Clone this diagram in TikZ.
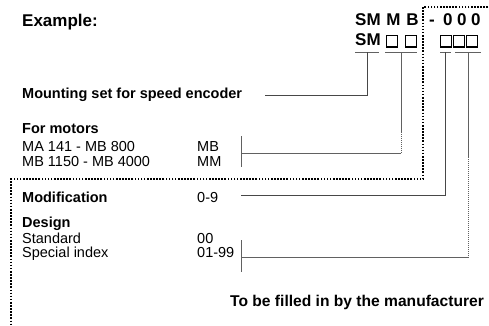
\documentclass[tikz,border=0pt]{standalone}
\usepackage{fontspec}
\setmainfont{Liberation Sans}
\begin{document}
\begin{tikzpicture}[x=1pt,y=-1pt,
  lbl/.style={anchor=base west, inner sep=0pt, font=\fontsize{14.5}{17}\selectfont},
  blbl/.style={anchor=base west, inner sep=0pt, font=\fontsize{14.5}{17}\selectfont\bfseries},
  hdr/.style={anchor=base west, inner sep=0pt, font=\fontsize{17}{20}\selectfont\bfseries},
  cbox/.style={draw, line width=1.3pt, minimum size=11.5pt, inner sep=0pt, anchor=north west},
  heavydot/.style={line width=1.6pt, dash pattern=on 1.6pt off 1.5pt},
  leader/.style={draw=black!72, line width=0.7pt},
  fine/.style={draw=black!62, line width=0.65pt, dash pattern=on 1.5pt off 0.5pt},
]
\useasboundingbox (0,0) rectangle (489,326);

% header
\node[hdr] (ex) at (22,27) {Example:};
\node[hdr] (code) at (355,26) {SM\hspace{1pt} M\hspace{1pt} B};
\node[hdr] (dash) at (429,26) {-};
\node[hdr] (zeros) at (443,26) {0\hspace{4.5pt}0\hspace{4.5pt}0};
\node[hdr] (sm) at (355,46) {SM};
\node[cbox] (b1) at (385.5,35) {};
\node[cbox] (b2) at (404.5,35) {};
\node[cbox] (z1) at (439.5,35) {};
\node[cbox] (z2) at (452.5,35) {};
\node[cbox] (z3) at (465.5,35) {};

% underlines
\coordinate (u1a) at (355,52); \coordinate (u1b) at (379,52); \coordinate (u1) at (367,52);
\coordinate (u2a) at (385,52); \coordinate (u2b) at (417,52); \coordinate (u2) at (401,52);
\coordinate (u3a) at (440,52); \coordinate (u3b) at (451,52); \coordinate (u3) at (445.5,52);
\coordinate (u4a) at (455,52); \coordinate (u4b) at (481,52); \coordinate (u4) at (468,52);
\draw[fine] (u1a) -- (u1b);
\draw[fine] (u2a) -- (u2b);
\draw[fine] (u3a) -- (u3b);
\draw[fine] (u4a) -- (u4b);

% texts
\node[blbl] (mount) at (22,99) {Mounting set for speed encoder};
\node[blbl] (motors) at (22,133) {For motors};
\node[lbl] (ma) at (22,151) {MA 141 - MB 800};
\node[lbl] (mb) at (22,166) {MB 1150 - MB 4000};
\node[lbl] (cmb) at (197,151) {MB};
\node[lbl] (cmm) at (197,166) {MM};
\node[blbl] (mod) at (22,202) {Modification};
\node[lbl] (c09) at (197,202) {0-9};
\node[blbl] (design) at (22,227) {Design};
\node[lbl] (std) at (22,243) {Standard};
\node[lbl] (spec) at (22,257) {Special index};
\node[lbl] (c00) at (197,243) {00};
\node[lbl] (c0199) at (197,257) {01-99};
\node[blbl, font=\fontsize{15.6}{18}\selectfont\bfseries] (fill) at (230,306) {To be filled in by the manufacturer};

% connectors
\coordinate (m0) at (265,95);
\draw[leader] (m0) -| (u1);

\coordinate (k1) at (241,136); \coordinate (k2) at (241,167); \coordinate (k3) at (241,153);
\draw[fine] (k1) -- (k2);
\draw[fine] (k3) -| (u2);

\coordinate (d0) at (241,195);
\draw[leader] (d0) -| (u3);

\coordinate (s1) at (241,240); \coordinate (s2) at (241,272); \coordinate (s3) at (241,257);
\draw[fine] (s1) -- (s2);
\draw[fine] (s3) -| (u4);

% heavy dotted boundary
\coordinate (h0) at (488,7); \coordinate (h1) at (423,7);
\coordinate (h2) at (423,179); \coordinate (h3) at (11,179); \coordinate (h4) at (11,326);
\draw[heavydot] (h0) -- (h1) -- (h2) -- (h3) -- (h4);
\end{tikzpicture}
\end{document}
